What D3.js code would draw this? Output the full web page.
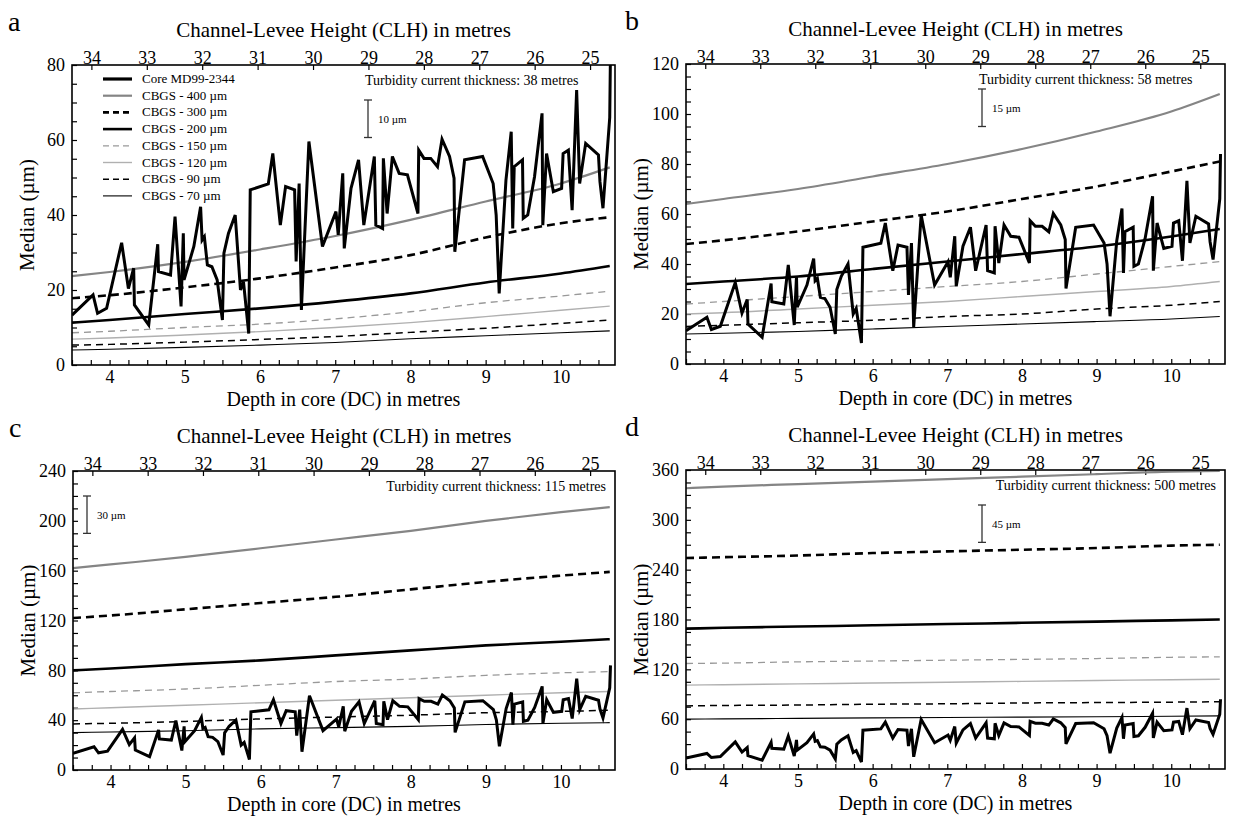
<!DOCTYPE html>
<html>
<head>
<meta charset="utf-8">
<script src="https://cdn.jsdelivr.net/npm/d3@7"></script>
<style>
  body { margin: 0; background: #fff; }
  svg text { font-family: "Liberation Serif", "Times New Roman", "DejaVu Serif", serif !important; fill: #000; }
</style>
</head>
<body>
<svg id="chart" width="1234" height="816" font-family="Liberation Serif"></svg>
<script>
// ---- data ----
// core MD99-2344 median grain size profile (depth in m, median in µm)
const coreDepth = [3.50, 3.78, 3.84, 3.96, 4.16, 4.25, 4.32, 4.33, 4.52, 4.64, 4.65, 4.81, 4.87, 4.95, 4.98, 4.99,
  5.12, 5.21, 5.23, 5.26, 5.30, 5.36, 5.43, 5.50, 5.52, 5.58, 5.67, 5.74, 5.78, 5.85, 5.87, 6.11, 6.17, 6.27,
  6.34, 6.46, 6.48, 6.52, 6.55, 6.65, 6.83, 7.01, 7.04, 7.10, 7.12, 7.21, 7.31, 7.38, 7.52, 7.54, 7.63, 7.64,
  7.69, 7.76, 7.85, 7.96, 8.10, 8.11, 8.18, 8.27, 8.36, 8.42, 8.52, 8.58, 8.59, 8.72, 8.96, 9.10, 9.14, 9.18,
  9.27, 9.34, 9.36, 9.38, 9.49, 9.50, 9.56, 9.65, 9.75, 9.76, 9.81, 9.90, 10.01, 10.03, 10.10, 10.15, 10.21,
  10.25, 10.33, 10.50, 10.52, 10.56, 10.65, 10.66];
const coreMedian = [13.3, 18.7, 13.8, 15.1, 32.6, 20.4, 25.8, 16.0, 10.7, 32.2, 24.9, 24.0, 39.6, 15.6, 35.1, 22.7,
  31.6, 42.2, 33.3, 34.2, 26.7, 26.2, 22.7, 12.0, 29.8, 35.1, 40.0, 20.0, 22.2, 8.4, 46.7, 48.3, 56.4, 37.3,
  47.6, 46.7, 27.6, 48.4, 14.7, 59.6, 31.6, 40.9, 34.7, 51.1, 31.1, 47.1, 54.7, 37.3, 55.6, 37.3, 36.4, 55.1,
  40.4, 55.6, 51.1, 50.7, 40.4, 57.3, 55.1, 55.1, 52.9, 60.2, 55.6, 49.8, 30.2, 54.7, 55.6, 48.4, 40.0, 19.1,
  49.3, 62.2, 36.4, 52.9, 54.7, 39.1, 40.0, 50.2, 67.1, 37.3, 56.4, 46.2, 47.1, 56.4, 57.3, 41.3, 73.3,
  48.4, 59.1, 56.0, 48.9, 41.8, 66.0, 84.0];

// depths at which the CBGS model curves were read
const modelDepth = [3.5, 4, 5, 6, 7, 8, 9, 10, 10.65];
const seriesNames = ["CBGS - 400 \u00b5m", "CBGS - 300 \u00b5m", "CBGS - 200 \u00b5m", "CBGS - 150 \u00b5m",
  "CBGS - 120 \u00b5m", "CBGS - 90 \u00b5m", "CBGS - 70 \u00b5m"];

// one row per grain size, same order as seriesNames
const cbgsA = [
  [23.7, 24.8, 27.5, 30.8, 34.4, 38.7, 43.6, 48.4, 52.7],
  [17.8, 18.6, 20.7, 23.1, 26.0, 29.3, 34.0, 37.8, 39.4],
  [11.3, 12.0, 13.6, 15.1, 16.9, 19.1, 22.0, 24.4, 26.4],
  [8.6, 9.0, 10.0, 10.9, 12.3, 14.2, 16.6, 18.4, 19.7],
  [6.9, 7.2, 8.0, 8.9, 10.0, 11.3, 12.9, 14.6, 15.7],
  [5.3, 5.5, 6.1, 6.8, 7.6, 8.7, 9.8, 11.1, 12.0],
  [4.0, 4.2, 4.7, 5.3, 6.0, 7.0, 7.8, 8.6, 9.1]
];
const cbgsB = [
  [64, 66, 70, 75, 80, 86, 93, 101, 108],
  [48, 49.5, 53, 57, 61, 66, 71, 77, 81],
  [32, 33, 35, 38, 41, 44, 47, 51, 54],
  [24, 25, 27, 29, 31, 33, 36, 39, 41],
  [20, 20.5, 22, 23.5, 25, 27, 29, 31, 33],
  [15, 15.5, 16.5, 17.5, 19, 20, 22, 23.5, 25],
  [12, 12.3, 13, 14, 15, 16, 17, 18, 19]
];
const cbgsC = [
  [162, 165, 171, 178, 185, 192, 200, 207, 211],
  [122, 124, 129, 134, 139, 145, 151, 156, 159],
  [80, 81.5, 85, 88, 92, 96, 100, 103, 105],
  [62, 63, 65, 68, 71, 73, 76, 78, 79],
  [49, 50, 52, 54, 56, 58, 60, 62, 63],
  [37, 37.5, 39, 41, 42.5, 44, 46, 47, 48],
  [30, 30.5, 31.5, 33, 34, 35, 36.5, 37.5, 38]
];
const cbgsD = [
  [338, 340, 343, 346, 349, 352, 355, 358, 359],
  [254, 255, 257, 260, 262, 264, 266, 269, 270],
  [169, 170, 171.5, 173, 174.5, 176, 177.5, 179, 180],
  [127, 127.5, 129, 130, 131, 132, 133, 134.5, 135],
  [101, 101.5, 102.5, 103.5, 104.5, 105.5, 106.5, 107.5, 108],
  [76, 76.5, 77, 78, 78.5, 79.5, 80, 80.5, 81],
  [60, 60.3, 61, 61.5, 62, 62.5, 63, 63.5, 64]
];

const panelLetters = ["a", "b", "c", "d"];
const yMaxes = [80, 120, 240, 360];
const yMajor = [20, 20, 40, 60];
const thicknesses = [38, 58, 115, 500];
const barSizes = [10, 15, 30, 45];
const clhTicks = [34, 33, 32, 31, 30, 29, 28, 27, 26, 25];
// CLH value found above the left and right edges of the depth axis
const clhDomain = [34.35, 24.55];
const depthDomain = [3.5, 10.72];

// ---- layout ----
const FONT = "'Liberation Serif', 'Times New Roman', serif";
const panels = [
  { x: 72, y: 65, w: 543, h: 300, data: cbgsA },
  { x: 686, y: 64, w: 539, h: 300, data: cbgsB },
  { x: 73, y: 471, w: 542, h: 299, data: cbgsC },
  { x: 686, y: 470, w: 539, h: 299, data: cbgsD }
];

const styles = [
  { color: "#858585", width: 2.2, dash: null },
  { color: "#000", width: 2.6, dash: "8,5" },
  { color: "#000", width: 2.6, dash: null },
  { color: "#999", width: 1.3, dash: "7,5" },
  { color: "#b0b0b0", width: 1.4, dash: null },
  { color: "#000", width: 1.5, dash: "7,5" },
  { color: "#000", width: 1.1, dash: null }
];

const svg = d3.select("#chart");
svg.append("rect").attr("width", 1234).attr("height", 816).attr("fill", "#fff");

panels.forEach((p, i) => {
  const g = svg.append("g").attr("transform", `translate(${p.x},${p.y})`);

  const x = d3.scaleLinear().domain(depthDomain).range([0, p.w]);
  const xTop = d3.scaleLinear().domain(clhDomain).range([0, p.w]);
  const y = d3.scaleLinear().domain([0, yMaxes[i]]).range([p.h, 0]);

  // clip so the core spike leaves the box at the top
  g.append("clipPath").attr("id", "clip" + i)
    .append("rect").attr("width", p.w).attr("height", p.h);

  // bottom axis, ticks every 0.25 m
  const bottom = g.append("g")
    .attr("transform", `translate(0,${p.h})`)
    .call(d3.axisBottom(x)
      .tickValues(d3.range(3.5, 10.51, 0.25))
      .tickSize(-5)
      .tickPadding(5)
      .tickFormat(d => Number.isInteger(d) ? d : ""));

  // top axis, channel-levee height
  const top = g.append("g")
    .call(d3.axisTop(xTop)
      .tickValues(clhTicks)
      .tickSize(-5)
      .tickPadding(1)
      .tickFormat(d3.format("d")));

  // left axis with minor ticks
  const left = g.append("g")
    .call(d3.axisLeft(y)
      .tickValues(d3.range(0, yMaxes[i] + 0.1, yMajor[i] / 4))
      .tickSize(-5)
      .tickPadding(7)
      .tickFormat(d => (d % yMajor[i] === 0) ? d : ""));

  [bottom, top, left].forEach(a => {
    a.attr("font-family", FONT);
    a.select(".domain").remove();
    a.selectAll(".tick line").attr("stroke", "#000").attr("stroke-width", 1.2);
    a.selectAll("text").style("font-size", "18px").style("font-family", FONT).attr("fill", "#000");
  });

  // model curves
  const line = d3.line()
    .x((d, k) => x(modelDepth[k]))
    .y(d => y(d))
    .curve(d3.curveMonotoneX);

  const plot = g.append("g").attr("clip-path", `url(#clip${i})`);
  plot.selectAll(".cbgs")
    .data(p.data)
    .enter().append("path")
    .attr("class", "cbgs")
    .attr("fill", "none")
    .attr("stroke", (d, k) => styles[k].color)
    .attr("stroke-width", (d, k) => styles[k].width)
    .attr("stroke-dasharray", (d, k) => styles[k].dash)
    .attr("d", line);

  // core profile
  const coreLine = d3.line()
    .x((d, k) => x(coreDepth[k]))
    .y(d => y(d));
  plot.append("path")
    .datum(coreMedian)
    .attr("fill", "none")
    .attr("stroke", "#000")
    .attr("stroke-width", 3)
    .attr("d", coreLine);

  // frame
  g.append("rect")
    .attr("width", p.w).attr("height", p.h)
    .attr("fill", "none").attr("stroke", "#000").attr("stroke-width", 1.6);

  // titles
  svg.append("text")
    .attr("x", p.x + p.w / 2).attr("y", p.y - 28)
    .attr("text-anchor", "middle").style("font-size", "21px").style("font-family", FONT)
    .text("Channel-Levee Height (CLH) in metres");
  svg.append("text")
    .attr("x", p.x + p.w / 2).attr("y", p.y + p.h + 41)
    .attr("text-anchor", "middle").style("font-size", "20px").style("font-family", FONT)
    .text("Depth in core (DC) in metres");
  svg.append("text")
    .attr("transform", `translate(${p.x - 38},${p.y + p.h / 2}) rotate(-90)`)
    .attr("text-anchor", "middle").style("font-size", "21px").style("font-family", FONT)
    .text("Median (\u00b5m)");
  svg.append("text")
    .attr("x", p.x - (i % 2 === 0 ? 64 : 61)).attr("y", p.y - 34)
    .style("font-size", "28px").style("font-family", FONT)
    .text(panelLetters[i]);

  // turbidity current thickness note
  const note = g.append("text")
    .attr("y", 20)
    .style("font-size", "14px").style("font-family", FONT)
    .text(`Turbidity current thickness: ${thicknesses[i]} metres`);
  if (i < 2) note.attr("x", 293);
  else note.attr("x", p.w - 9).attr("text-anchor", "end");

  // scale bar
  const barX = i === 2 ? 14 : 296;
  const barTop = i === 0 || i === 3 ? 35 : 25;
  const barLen = y(0) - y(barSizes[i]);
  const bar = g.append("g").attr("stroke", "#333").attr("stroke-width", 1.3);
  bar.append("line").attr("x1", barX).attr("x2", barX).attr("y1", barTop).attr("y2", barTop + barLen);
  bar.append("line").attr("x1", barX - 4).attr("x2", barX + 4).attr("y1", barTop).attr("y2", barTop);
  bar.append("line").attr("x1", barX - 4).attr("x2", barX + 4).attr("y1", barTop + barLen).attr("y2", barTop + barLen);
  g.append("text")
    .attr("x", barX + 10).attr("y", barTop + barLen / 2 + 4)
    .style("font-size", "11px").style("font-family", FONT)
    .text(`${barSizes[i]} \u00b5m`);

  // legend only in panel a
  if (i === 0) {
    const legendItems = [{ name: "Core MD99-2344", color: "#000", width: 3.2, dash: null }]
      .concat(seriesNames.map((n, k) => Object.assign({ name: n }, styles[k])));
    const lg = g.append("g").attr("transform", "translate(31,14)");
    legendItems.forEach((it, k) => {
      const row = lg.append("g").attr("transform", `translate(0,${k * 16.7})`);
      row.append("line")
        .attr("x1", 0).attr("x2", 29)
        .attr("stroke", it.color)
        .attr("stroke-width", it.width)
        .attr("stroke-dasharray", it.dash ? "6,4" : null);
      row.append("text")
        .attr("x", 39).attr("y", 4)
        .style("font-size", "13px").style("font-family", FONT)
        .text(it.name);
    });
  }
});
</script>
</body>
</html>
